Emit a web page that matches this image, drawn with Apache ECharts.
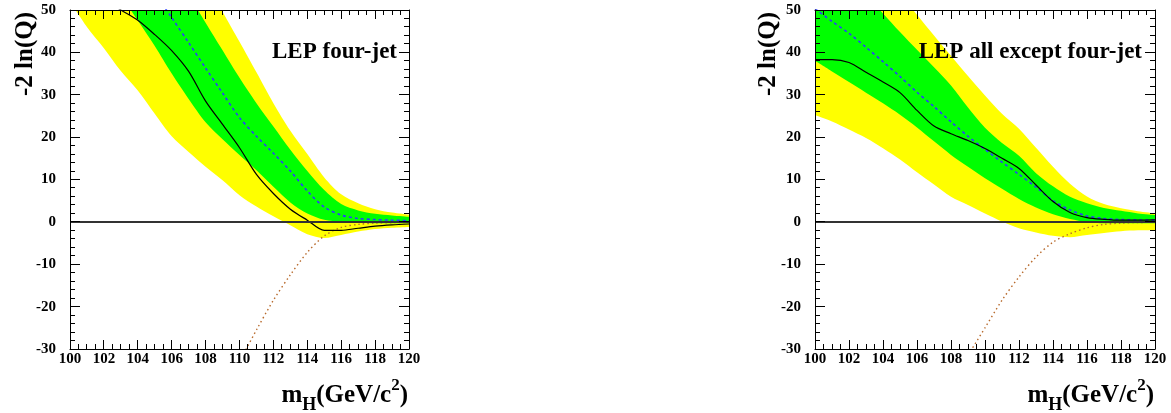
<!DOCTYPE html>
<html>
<head>
<meta charset="utf-8">
<script src="https://cdn.jsdelivr.net/npm/echarts@6/dist/echarts.min.js"></script>
<style>
html,body{margin:0;padding:0;background:#fff;}
#wrap{position:relative;width:1171px;height:413px;}
.pane{position:absolute;left:0;top:0;width:1171px;height:413px;}
</style>
</head>
<body>
<div id="wrap"><div class="pane" id="p1"></div><div class="pane" id="p2"></div></div>
<script>
// ---------------- data ----------------
const masses = [100,101,102,103,104,105,106,107,108,109,110,111,112,113,114,115,116,117,118,119,120];
const xTicks = [100,102,104,106,108,110,112,114,116,118,120];
const yTicks = [-30,-20,-10,0,10,20,30,40,50];
const xMinorPerMajor = 4;   // minor divisions between labelled x ticks
const yMinorPerMajor = 5;   // minor divisions between labelled y ticks

// LEP four-jet (left panel)
const fjYellowLo = [52,46,41,35.6,31,25.5,20.2,16.5,13.0,9.8,6.3,3.6,1.3,-0.8,-2.9,-3.8,-3.1,-2.3,-1.7,-1.4,-1.2];
const fjYellowHi = [115,107.7,100.4,93,86,78.7,71.5,64.2,57,49.6,42.5,35.3,28,21.5,16,10.5,6.5,4.4,3.0,2.2,1.7];
const fjGreenLo  = [71.6,65.5,59.5,53.5,47.5,41.5,35,29,23.5,19.5,15.8,12.2,8.3,4.6,2.0,0.5,0.0,-0.2,-0.3,-0.3,-0.3];
const fjGreenHi  = [99,92.5,86,79.5,73,66.5,60,53.5,47,40.5,34,28,22.5,17,12,7.5,4.2,2.7,1.9,1.5,1.2];
const fjExpB     = [83,77.2,71.5,65.7,60,54,48.2,42.3,36.3,30.4,24.6,20.2,16.2,12.0,7.3,3.5,1.6,0.8,0.55,0.4,0.3];
const fjObs      = [null,null,52.5,50,47.6,44.2,40.4,35.5,28.5,23,17.5,11.2,6.7,3.0,0.4,-2.0,-2.0,-1.5,-1.0,-0.7,-0.5];
const fjExpSB    = [null,null,null,null,null,null,null,null,null,null,-33,-25.5,-18.5,-12.5,-7.2,-3.3,-1.3,-0.6,-0.3,-0.2,-0.1];

// LEP all except four-jet (right panel)
const axYellowLo = [25.2,23.7,21.8,19.8,17.4,14.7,11.7,8.8,5.9,4.0,2.0,0.1,-1.5,-2.5,-3.3,-3.6,-3.1,-2.6,-2.2,-2.0,-1.9];
const axYellowHi = [78,73.2,68.3,63.5,58.7,53.8,48.9,44.0,39.2,34.4,29.8,25.5,22,17.5,13,9.0,6.0,4.2,3.2,2.5,2.0];
const axGreenLo  = [38,35.5,33,30.5,28,25.3,22.3,19.0,15.8,13.0,10.3,7.8,5.4,3.4,1.8,0.7,0.0,-0.3,-0.3,-0.3,-0.3];
const axGreenHi  = [67,62.5,58,53.5,49.2,44.8,40.6,36.5,32.2,27.0,22.2,18.6,15.6,11.5,8.4,5.9,4.4,3.3,2.6,2.0,1.65];
const axExpB     = [50.3,47.3,44.5,41.2,37.8,34.3,30.6,27.2,23.6,20.2,17.1,14.1,11.2,8.2,5.0,2.8,1.4,0.8,0.55,0.45,0.4];
const axObs      = [38.3,38.3,37.6,35.3,33.0,30.5,26.3,22.6,20.8,19.2,17.3,15.0,12.6,8.7,4.8,2.2,1.0,0.6,0.4,0.4,0.45];
const axExpSB    = [null,null,null,null,null,null,null,null,null,-31.5,-25,-18.5,-13,-8.3,-4.8,-2.8,-1.4,-0.6,-0.3,-0.15,-0.1];

const panelLabels = ['LEP four-jet', 'LEP all except four-jet'];
const yTitle = '-2 ln(Q)';

// ---------------- chart ----------------
const FONT = '"Liberation Serif", "DejaVu Serif", serif';
const AXZ = 10;
const hiddenSplit = {show: true, lineStyle: {color: 'rgba(255,255,255,0)', width: 1}};
const X0 = xTicks[0], X1 = xTicks[xTicks.length - 1];
const Y0 = yTicks[0], Y1 = yTicks[yTicks.length - 1];

function xAx(top) {
  const a = {
    type: 'value', z: AXZ, min: X0, max: X1, interval: xTicks[1] - xTicks[0],
    axisLine: {show: true, onZero: false, lineStyle: {color: '#000', width: 1}},
    axisTick: {show: false},
    splitLine: hiddenSplit,
    axisLabel: {show: !top, margin: 3, color: '#000', fontFamily: FONT, fontWeight: 'bold', fontSize: 15}
  };
  if (top) a.position = 'top';
  return a;
}
function yAx(right) {
  const a = {
    type: 'value', z: AXZ, min: Y0, max: Y1, interval: yTicks[1] - yTicks[0],
    axisLine: {show: true, onZero: false, lineStyle: {color: '#000', width: 1}},
    axisTick: {show: false},
    splitLine: hiddenSplit,
    axisLabel: {show: !right, margin: 14, color: '#000', fontFamily: FONT, fontWeight: 'bold', fontSize: 15}
  };
  if (right) a.position = 'right';
  return a;
}

function pairs(arr) { return masses.map((m, i) => [m, arr[i]]); }

// nested bands: each boundary filled down to the axis bottom, outer to inner
function area(arr, color) {
  return {type: 'line', data: pairs(arr), symbol: 'none', smooth: 0.3,
    silent: true, clip: true, lineStyle: {width: 0, opacity: 0},
    areaStyle: {color: color, opacity: 1, origin: 'start'}};
}
function bands(yHi, gHi, gLo, yLo) {
  return [area(yHi, '#ffff00'), area(gHi, '#00ff00'), area(gLo, '#ffff00'), area(yLo, '#ffffff')];
}
function lines(obs, expB, expSB) {
  return [
    {type: 'line', data: pairs(expB), symbol: 'none', smooth: 0.3, clip: true,
     lineStyle: {color: '#2a3cff', width: 1.6, type: [3, 3]}},
    {type: 'line', data: pairs(expSB), symbol: 'none', smooth: 0.3, clip: true,
     lineStyle: {color: '#b86a2c', width: 1.4, type: [1.5, 3]}},
    {type: 'line', data: pairs(obs), symbol: 'none', smooth: 0.3, clip: true,
     lineStyle: {color: '#000', width: 1.2},
     markLine: {silent: true, symbol: ['none', 'none'], label: {show: false},
       lineStyle: {color: '#333', width: 2, type: 'solid'}, data: [{yAxis: 0}]}}
  ];
}

// ROOT-style ticks on all four frame sides, placed through the axes' own scales
function tickSeries() {
  const xMajor = xTicks.slice(), yMajor = yTicks.slice();
  const xMinor = [], yMinor = [];
  for (let i = 0; i < xTicks.length - 1; i++)
    for (let k = 1; k < xMinorPerMajor; k++)
      xMinor.push(xTicks[i] + (xTicks[i + 1] - xTicks[i]) * k / xMinorPerMajor);
  for (let i = 0; i < yTicks.length - 1; i++)
    for (let k = 1; k < yMinorPerMajor; k++)
      yMinor.push(yTicks[i] + (yTicks[i + 1] - yTicks[i]) * k / yMinorPerMajor);
  return {
    type: 'custom', silent: true, z: 8, clip: false,
    data: [[X0, Y0]],
    renderItem: function (params, api) {
      if (params.dataIndex !== 0) return null;
      const kids = [];
      const st = {stroke: '#000', lineWidth: 1};
      const snap = (v) => Math.floor(v) + 0.5;
      const seg = (x1, y1, x2, y2) => kids.push({type: 'line', shape: {x1: x1, y1: y1, x2: x2, y2: y2}, style: st});
      const xt = (v, len) => {
        const b = api.coord([v, Y0]), t = api.coord([v, Y1]);
        const px = snap(b[0]);
        seg(px, b[1], px, b[1] - len);
        seg(px, t[1], px, t[1] + len);
      };
      const yt = (v, len) => {
        const l = api.coord([X0, v]), r = api.coord([X1, v]);
        const py = snap(l[1]);
        seg(l[0], py, l[0] + len, py);
        seg(r[0], py, r[0] - len, py);
      };
      xMajor.forEach(v => xt(v, 9));
      xMinor.forEach(v => xt(v, 5));
      yMajor.forEach(v => yt(v, 10));
      yMinor.forEach(v => yt(v, 5));
      return {type: 'group', children: kids};
    }
  };
}

// x-axis title m_H(GeV/c^2), pieces measured for right alignment
const cv = document.createElement('canvas').getContext('2d');
function tw(t, f) { cv.font = f; return cv.measureText(t).width; }
const fMain = 'bold 25px ' + FONT, fSub = 'bold 18px ' + FONT, fSup = 'bold 17px ' + FONT;
function txt(x, y, text, font, align, extra) {
  return Object.assign({type: 'text', x: x, y: y, z: 20,
    style: {text: text, font: font, fill: '#000', align: align, verticalAlign: 'middle',
      textAlign: align, textVerticalAlign: 'middle'}}, extra || {});
}
function xTitle(R) {
  const xClose = R - tw(')', fMain);
  const xSup = xClose - tw('2', fSup);
  const xMain = xSup - tw('(GeV/c', fMain);
  const xSub = xMain - tw('H', fSub);
  const xM = xSub - tw('m', fMain);
  return [
    txt(xM, 396, 'm', fMain, 'left'), txt(xSub, 405, 'H', fSub, 'left'), txt(xMain, 396, '(GeV/c', fMain, 'left'),
    txt(xSup, 386, '2', fSup, 'left'), txt(xClose, 396, ')', fMain, 'left')
  ];
}

function panel(el, grid, bandArr, lineArr, label, yTitleX, labelR, titleR, bg) {
  const chart = echarts.init(document.getElementById(el), null, {renderer: 'canvas'});
  chart.setOption({
    animation: false,
    backgroundColor: bg,
    grid: grid,
    xAxis: [xAx(false), xAx(true)],
    yAxis: [yAx(false), yAx(true)],
    series: [].concat(bandArr, lineArr, [tickSeries()]),
    graphic: [].concat(
      [txt(yTitleX, 54, yTitle, 'bold 25px ' + FONT, 'center', {rotation: Math.PI / 2}),
       txt(labelR, 52, label, 'bold 23px ' + FONT, 'right')],
      xTitle(titleR)
    )
  });
  return chart;
}

panel('p1', {left: 70, top: 10, width: 339, height: 339},
  bands(fjYellowHi, fjGreenHi, fjGreenLo, fjYellowLo), lines(fjObs, fjExpB, fjExpSB),
  panelLabels[0], 26, 397, 408, '#fff');
panel('p2', {left: 815, top: 10, width: 340, height: 339},
  bands(axYellowHi, axGreenHi, axGreenLo, axYellowLo), lines(axObs, axExpB, axExpSB),
  panelLabels[1], 769, 1142, 1154, 'transparent');
</script>
</body>
</html>
